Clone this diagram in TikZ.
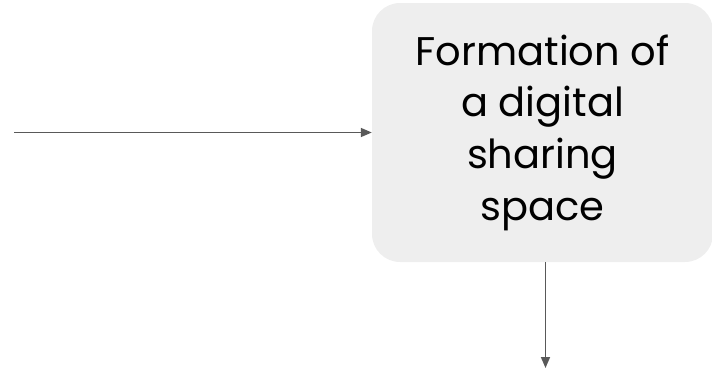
\documentclass[tikz,border=0pt]{standalone}
\usepackage{fontspec}
\setmainfont{Poppins}
\usetikzlibrary{arrows.meta}
\definecolor{boxfill}{HTML}{EEEEEE}
\definecolor{arrowgray}{HTML}{595959}
\tikzset{
  conn/.style={draw=arrowgray, line width=1.6pt, -{Triangle[length=11pt,width=9pt]}},
  mainbox/.style={fill=boxfill, draw=none, rounded corners=28pt, minimum width=341pt, minimum height=259pt, inner sep=0pt, align=center, font=\fontsize{40}{51.7}\selectfont}
}
\begin{document}
\begin{tikzpicture}[x=1pt,y=-1pt]
\useasboundingbox (0,0) rectangle (712,373);
\node[mainbox] (box) at (542.5,132.5) {Formation of\\a digital\\sharing\\space};
\coordinate (start) at (14,132.5);
\coordinate (end) at (545.5,368);
\draw[conn] (start) -- (box.west);
\draw[conn] (box.south -| end) -- (end);
\end{tikzpicture}
\end{document}
